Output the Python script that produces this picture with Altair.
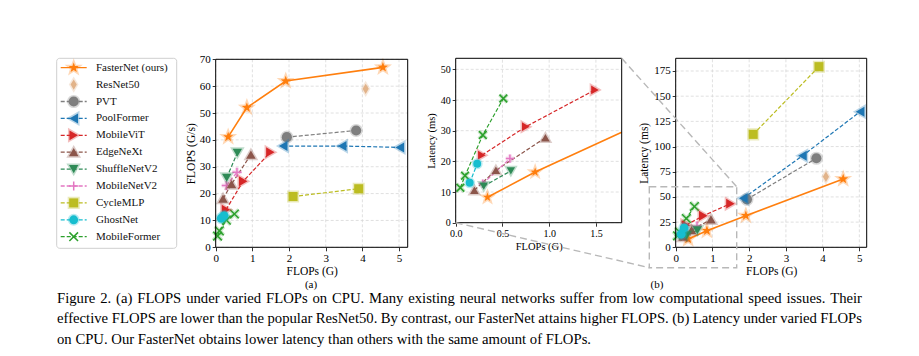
import math
import altair as alt
import pandas as pd

FONT = "Liberation Serif"
W, H = 919, 356

# ---------------- data ----------------
models = ["FasterNet (ours)", "ResNet50", "PVT", "PoolFormer", "MobileViT", "EdgeNeXt",
          "ShuffleNetV2", "MobileNetV2", "CycleMLP", "GhostNet", "MobileFormer"]

flops_g = {
    "FasterNet (ours)": [0.34, 0.85, 1.91, 4.56],
    "ResNet50": [4.09],
    "PVT": [1.94, 3.83],
    "PoolFormer": [1.84, 3.45, 5.02],
    "MobileViT": [0.28, 0.75, 1.49],
    "EdgeNeXt": [0.20, 0.43, 0.96],
    "ShuffleNetV2": [0.30, 0.59],
    "MobileNetV2": [0.29, 0.58],
    "CycleMLP": [2.11, 3.90],
    "GhostNet": [0.15, 0.23],
    "MobileFormer": [0.05, 0.10, 0.29, 0.51],
}
flops_per_s = {
    "FasterNet (ours)": [41.1, 52.0, 61.9, 67.0],
    "ResNet50": [59.0],
    "PVT": [41.0, 43.5],
    "PoolFormer": [37.7, 37.7, 37.2],
    "MobileViT": [14.0, 24.6, 35.4],
    "EdgeNeXt": [18.1, 23.5, 34.5],
    "ShuffleNetV2": [25.9, 35.2],
    "MobileNetV2": [23.0, 27.9],
    "CycleMLP": [18.9, 21.8],
    "GhostNet": [10.8, 11.8],
    "MobileFormer": [4.2, 6.1, 10.1, 12.4],
}
latency_ms = {
    "FasterNet (ours)": [8.3, 16.5, 31.4, 67.8],
    "ResNet50": [70.0],
    "PVT": [47.6, 88.4],
    "PoolFormer": [48.6, 90.8, 134.6],
    "MobileViT": [22.0, 31.3, 43.3],
    "EdgeNeXt": [10.6, 17.1, 27.7],
    "ShuffleNetV2": [11.9, 16.9],
    "MobileNetV2": [12.7, 20.9],
    "CycleMLP": [112.1, 179.3],
    "GhostNet": [13.0, 19.2],
    "MobileFormer": [11.4, 15.3, 28.6, 40.5],
}

xa_ticks = [0, 1, 2, 3, 4, 5]
ya_ticks = [0, 10, 20, 30, 40, 50, 60, 70]
xi_ticks = [0.0, 0.5, 1.0, 1.5]
yi_ticks = [0, 10, 20, 30, 40, 50]
xb_ticks = [0, 1, 2, 3, 4, 5]
yb_ticks = [0, 25, 50, 75, 100, 125, 150, 175]

caption_lines = [
    "Figure 2. (a) FLOPS under varied FLOPs on CPU. Many existing neural networks suffer from low computational speed issues.  Their",
    "effective FLOPS are lower than the popular ResNet50. By contrast, our FasterNet attains higher FLOPS. (b) Latency under varied FLOPs",
    "on CPU. Our FasterNet obtains lower latency than others with the same amount of FLOPs.",
]

# ---------------- styles ----------------
colors = ["#ff7f0e", "#e2b48a", "#7f7f7f", "#1f77b4", "#d62728", "#8c564b",
          "#2e8b57", "#e377c2", "#bcbd22", "#17becf", "#2ca02c"]


def star_path(n=5, r_in=0.42):
    pts = []
    for k in range(2 * n):
        r = 1.0 if k % 2 == 0 else r_in
        a = -math.pi / 2 + k * math.pi / n
        pts.append(f"{r * math.cos(a):.3f},{r * math.sin(a):.3f}")
    return "M" + "L".join(pts) + "Z"


PLUS = "M-1,0L1,0M0,-1L0,1"
XMARK = "M-1,-1L1,1M-1,1L1,-1"
shapes = [star_path(), "M0,-1L0.6,0L0,1L-0.6,0Z", "circle", "triangle-left", "triangle-right",
          "triangle-up", "triangle-down", PLUS, "square", "circle", XMARK]
sizes = [110, 75, 64, 60, 60, 60, 60, 75, 56, 64, 50]
dashes = [[1, 0]] + [[4, 2]] * 10
stroked = ["MobileNetV2", "MobileFormer"]
filled_models = [m for m in models if m not in stroked]

rows = []
for m in models:
    for f, r, l in zip(flops_g[m], flops_per_s[m], latency_ms[m]):
        rows.append({"model": m, "flops": f, "rate": r, "lat": l})
df = pd.DataFrame(rows)

color_scale = alt.Scale(domain=models, range=colors)
shape_scale = alt.Scale(domain=models, range=shapes)
dash_scale = alt.Scale(domain=models, range=dashes)


def axis_kw(values, title, orient, offset, lsize, tsize, fmt=None, tpad=3):
    kw = dict(values=values, title=title, orient=orient, offset=offset, grid=False, domain=False,
              ticks=True, tickSize=3.5, tickColor="black", tickWidth=0.8,
              labelFont=FONT, labelFontSize=lsize, labelColor="black", labelPadding=2,
              labelFlush=False, labelOverlap=False,
              titleFont=FONT, titleFontSize=tsize, titleFontWeight="normal", titleColor="black",
              titlePadding=tpad)
    if fmt:
        kw["format"] = fmt
    return alt.Axis(**kw)


def make_panel(yfield, xdom, ydom, xr, yr, xt, yt, xtitle, ytitle, xfmt, lsize, tsize, msc, ytpad, xtpad):
    xscale = alt.Scale(domain=xdom, range=xr, nice=False, zero=False)
    yscale = alt.Scale(domain=ydom, range=yr, nice=False, zero=False)
    xaxis = axis_kw(xt, xtitle, "bottom", yr[0] - H, lsize, tsize, xfmt, xtpad)
    yaxis = axis_kw(yt, ytitle, "left", -xr[0], lsize, tsize, None, ytpad)
    xmax = xdom[1]

    def X(f):
        return alt.X(f"{f}:Q", scale=xscale, axis=xaxis)

    def Y(f):
        return alt.Y(f"{f}:Q", scale=yscale, axis=yaxis)

    size_enc = alt.Size("model:N", scale=alt.Scale(domain=models, range=[s * msc for s in sizes]), legend=None)

    vgrid = pd.DataFrame({"gx": xt, "gy0": ydom[0], "gy1": ydom[1]})
    hgrid = pd.DataFrame({"gy": yt, "gx0": xdom[0], "gx1": xdom[1]})
    frame = pd.DataFrame({"fx0": [xdom[0]], "fx1": [xdom[1]], "fy0": [ydom[0]], "fy1": [ydom[1]]})

    gv = alt.Chart(vgrid).mark_rule(color="#d8d8d8", strokeWidth=0.8, strokeDash=[3, 2]).encode(
        x=X("gx"), y=Y("gy0"), y2="gy1")
    gh = alt.Chart(hgrid).mark_rule(color="#d8d8d8", strokeWidth=0.8, strokeDash=[3, 2]).encode(
        y=Y("gy"), x=X("gx0"), x2="gx1")

    # line data, cut at the right edge of the panel (interpolated crossing point)
    base = alt.Chart(df)
    lbase = base.transform_window(
        px="lag(flops)", py=f"lag({yfield})", groupby=["model"], sort=[alt.SortField("flops")]
    ).transform_filter(
        f"datum.flops <= {xmax} || (isValid(datum.px) && datum.px <= {xmax})"
    ).transform_calculate(
        xc=f"datum.flops <= {xmax} ? datum.flops : {xmax}",
        yc=f"datum.flops <= {xmax} ? datum.{yfield} : datum.py + (datum.{yfield} - datum.py) * ({xmax} - datum.px) / (datum.flops - datum.px)",
    )
    pbase = base.transform_filter(f"datum.flops <= {xmax}")

    lines = lbase.transform_filter(alt.datum.model != "FasterNet (ours)").mark_line(
        strokeWidth=1.2).encode(
        x=X("xc"), y=Y("yc"),
        color=alt.Color("model:N", scale=color_scale, legend=None),
        strokeDash=alt.StrokeDash("model:N", scale=dash_scale, legend=None),
        order="xc:Q")
    fline = lbase.transform_filter(alt.datum.model == "FasterNet (ours)").mark_line(
        strokeWidth=1.6).encode(
        x=X("xc"), y=Y("yc"),
        color=alt.Color("model:N", scale=color_scale, legend=None),
        order="xc:Q")
    pts = pbase.transform_filter(alt.FieldOneOfPredicate(field="model", oneOf=filled_models)).mark_point(
        filled=True, opacity=1, fillOpacity=1, strokeWidth=3, strokeOpacity=0.3).encode(
        x=X("flops"), y=Y(yfield),
        fill=alt.Fill("model:N", scale=color_scale, legend=None),
        stroke=alt.Stroke("model:N", scale=color_scale, legend=None),
        shape=alt.Shape("model:N", scale=shape_scale, legend=None),
        size=size_enc)
    spts_halo = pbase.transform_filter(alt.FieldOneOfPredicate(field="model", oneOf=stroked)).mark_point(
        filled=False, opacity=1, strokeWidth=4, strokeOpacity=0.25).encode(
        x=X("flops"), y=Y(yfield),
        stroke=alt.Stroke("model:N", scale=color_scale, legend=None),
        shape=alt.Shape("model:N", scale=shape_scale, legend=None),
        size=size_enc)
    spts = pbase.transform_filter(alt.FieldOneOfPredicate(field="model", oneOf=stroked)).mark_point(
        filled=False, opacity=1, strokeWidth=1.5).encode(
        x=X("flops"), y=Y(yfield),
        stroke=alt.Stroke("model:N", scale=color_scale, legend=None),
        shape=alt.Shape("model:N", scale=shape_scale, legend=None),
        size=size_enc)
    fr = alt.Chart(frame).mark_rect(fillOpacity=0, stroke="black", strokeWidth=1).encode(
        x=X("fx0"), x2="fx1", y=Y("fy0"), y2="fy1")
    return alt.layer(gv, gh, lines, fline, spts_halo, spts, pts, fr)


panel_a = make_panel("rate", [0, 5.236], [0, 70], [215.7, 407.7], [247.3, 59.3],
                     xa_ticks, ya_ticks, "FLOPs (G)", "FLOPS (G/s)", None, 11, 11.5, 1.0, 3, 2)
inset = make_panel("lat", [0, 1.776], [0, 53.6], [455.7, 621.7], [222.7, 58.3],
                   xi_ticks, yi_ticks, "FLOPs (G)", "Latency (ms)", ".1f", 10, 10.5, 0.8, 4, 3)
panel_b = make_panel("lat", [0, 5.2], [0, 187.6], [675.7, 866.7], [247.3, 58.3],
                     xb_ticks, yb_ticks, "FLOPs (G)", "Latency (ms)", None, 11, 11.5, 1.0, 4, 2)

# ---------------- legend ----------------
leg_df = pd.DataFrame({"model": models})
ly = alt.Y("model:N", scale=alt.Scale(type="point", domain=models, range=[67.7, 236.7], padding=0), axis=None)
one = pd.DataFrame({"a": [0]})
leg_box = alt.Chart(one).mark_rect(fill="white", stroke="#cfcfcf", strokeWidth=1, cornerRadius=3).encode(
    x=alt.value(56.7), x2=alt.value(176.7), y=alt.value(58.3), y2=alt.value(248.3))
leg_lines = alt.Chart(leg_df).transform_filter(alt.datum.model != "ResNet50").mark_rule(strokeWidth=1.3).encode(
    y=ly, x=alt.value(60.7), x2=alt.value(86.7),
    color=alt.Color("model:N", scale=color_scale, legend=None),
    strokeDash=alt.StrokeDash("model:N", scale=dash_scale, legend=None))
leg_size = alt.Size("model:N", scale=alt.Scale(domain=models, range=sizes), legend=None)
leg_pts = alt.Chart(leg_df).transform_filter(
    alt.FieldOneOfPredicate(field="model", oneOf=filled_models)).mark_point(
    filled=True, opacity=1, strokeWidth=3, strokeOpacity=0.3).encode(
    y=ly, x=alt.value(73.7),
    fill=alt.Fill("model:N", scale=color_scale, legend=None),
    stroke=alt.Stroke("model:N", scale=color_scale, legend=None),
    shape=alt.Shape("model:N", scale=shape_scale, legend=None), size=leg_size)
leg_spts = alt.Chart(leg_df).transform_filter(
    alt.FieldOneOfPredicate(field="model", oneOf=stroked)).mark_point(
    filled=False, opacity=1, strokeWidth=1.5).encode(
    y=ly, x=alt.value(73.7),
    stroke=alt.Stroke("model:N", scale=color_scale, legend=None),
    shape=alt.Shape("model:N", scale=shape_scale, legend=None), size=leg_size)
leg_text = alt.Chart(leg_df).mark_text(align="left", baseline="middle", font=FONT, fontSize=11,
                                        color="#111").encode(
    y=ly, x=alt.value(96), text="model:N")
legend = alt.layer(leg_box, leg_lines, leg_pts, leg_spts, leg_text)

# ---------------- caption (justified like the paper) ----------------
# Times / Liberation Serif advance widths (1/1000 em)
ADV = {" ": 250, ".": 250, ",": 250, "(": 333, ")": 333, "-": 333, "/": 278, ":": 278,
       "0": 500, "1": 500, "2": 500, "3": 500, "4": 500, "5": 500, "6": 500, "7": 500, "8": 500, "9": 500}
ADV.update(dict(zip("abcdefghijklmnopqrstuvwxyz",
                    [444, 500, 444, 500, 444, 333, 500, 500, 278, 278, 500, 278, 778, 500, 500, 500, 500,
                     333, 389, 278, 500, 500, 722, 500, 500, 444])))
ADV.update(dict(zip("ABCDEFGHIJKLMNOPQRSTUVWXYZ",
                    [722, 667, 667, 722, 611, 556, 722, 722, 333, 389, 722, 611, 889, 722, 722, 556, 722,
                     667, 556, 611, 722, 722, 944, 722, 722, 611])))
CAP_FS = 14.7
CAP_X0, CAP_X1 = 57, 862
CAP_Y = [298.8, 319.2, 339.6]


def tw(s):
    return sum(ADV.get(c, 500) for c in s) * CAP_FS / 1000.0


cap_rows = []
for li, line in enumerate(caption_lines):
    words = line.split()
    natural = sum(tw(w) for w in words)
    if li < len(caption_lines) - 1:
        gap = (CAP_X1 - CAP_X0 - natural) / (len(words) - 1)
    else:
        gap = tw(" ")
    x = CAP_X0
    for w in words:
        cap_rows.append({"word": w, "cx": x, "cy": CAP_Y[li]})
        x += tw(w) + gap
cap_df = pd.DataFrame(cap_rows)
cap = alt.Chart(cap_df).mark_text(align="left", baseline="middle", font=FONT, fontSize=CAP_FS,
                                  color="black").encode(
    x=alt.X("cx:Q", scale=None, axis=None), y=alt.Y("cy:Q", scale=None, axis=None), text="word:N")

# ---------------- annotations ----------------
zoom_style = dict(stroke="#b8b8b8", strokeWidth=1.4, strokeDash=[7, 4])
zrect = alt.Chart(one).mark_rect(fillOpacity=0, **zoom_style).encode(
    x=alt.value(649.3), x2=alt.value(736.7), y=alt.value(186.7), y2=alt.value(267.7))
conn1 = alt.Chart(one).mark_rule(**zoom_style).encode(
    x=alt.value(621.7), y=alt.value(58.3), x2=alt.value(736.7), y2=alt.value(186.7))
conn2 = alt.Chart(one).mark_rule(**zoom_style).encode(
    x=alt.value(455.7), y=alt.value(222.7), x2=alt.value(649.3), y2=alt.value(267.7))
lab_a = alt.Chart(one).mark_text(font=FONT, fontSize=11, color="black", baseline="middle").encode(
    x=alt.value(311), y=alt.value(285.3), text=alt.value("(a)"))
lab_b = alt.Chart(one).mark_text(font=FONT, fontSize=11, color="black", baseline="middle").encode(
    x=alt.value(657), y=alt.value(285.3), text=alt.value("(b)"))

chart = alt.layer(legend, panel_a, inset, panel_b, zrect, conn1, conn2, lab_a, lab_b, cap).resolve_scale(
    x="independent", y="independent", size="independent").properties(
    width=W, height=H, autosize=alt.AutoSizeParams(type="none"), padding=0, background="white"
).configure_view(stroke=None)

chart.save("out.html", embed_options={"renderer": "svg", "actions": False})
